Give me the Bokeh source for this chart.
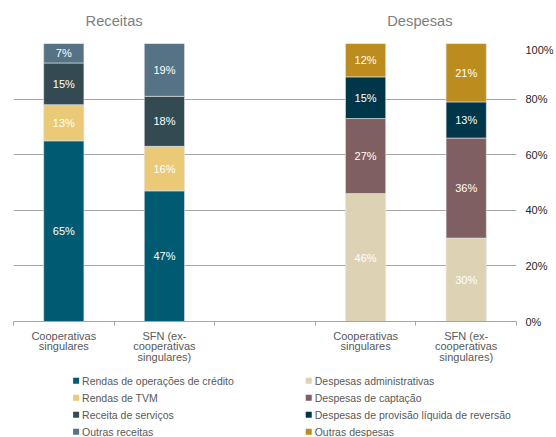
from bokeh.plotting import figure
from bokeh.layouts import column
from bokeh.models import FixedTicker, Range1d, ColumnDataSource
from bokeh.embed import file_html
from bokeh.resources import INLINE
from bokeh.core.properties import value

# ---------------- data ----------------
groups = ["Cooperativas\nsingulares", "SFN (ex-\ncooperativas\nsingulares)"]
panel_titles = ["Receitas", "Despesas"]

receitas_names = ["Rendas de operações de crédito", "Rendas de TVM",
                  "Receita de serviços", "Outras receitas"]
receitas_coop = [65, 13, 15, 7]
receitas_sfn = [47, 16, 18, 19]

despesas_names = ["Despesas administrativas", "Despesas de captação",
                  "Despesas de provisão líquida de reversão", "Outras despesas"]
despesas_coop = [46, 27, 15, 12]
despesas_sfn = [30, 36, 13, 21]

y_ticks = [0, 20, 40, 60, 80, 100]

receitas_colors = ["#005A72", "#EAC977", "#344A52", "#557384"]
despesas_colors = ["#DED2B5", "#7F5F62", "#00364A", "#BD8C1E"]

FONT = "Liberation Sans"
W = 556
LEFT, RIGHT = 13, 37

xr = Range1d(0, 5)

# ---------------- title strip ----------------
pt = figure(width=W, height=43, output_backend="svg", toolbar_location=None,
            x_range=xr, y_range=Range1d(0, 43), x_axis_type=None, y_axis_type=None,
            min_border_left=LEFT, min_border_right=RIGHT, min_border_top=0,
            min_border_bottom=0)
pt.outline_line_color = None
pt.grid.visible = False
pt.text(x=[1.0, 4.04], y=[23, 23], text=panel_titles, text_align="center",
        text_baseline="middle", text_font=value(FONT), text_font_size="14.7px",
        text_color="#808080")

# ---------------- main chart ----------------
p = figure(width=W, height=278 + 50, output_backend="svg", toolbar_location=None,
           x_range=xr, y_range=Range1d(0, 100), y_axis_location="right",
           min_border_left=LEFT, min_border_right=RIGHT, min_border_top=0,
           min_border_bottom=50)
p.outline_line_color = None
p.xgrid.visible = False
p.ygrid.grid_line_color = "#A6A6A6"
p.ygrid.grid_line_width = 1

panel_x = [[0.5, 1.5], [3.5, 4.5]]
panels = [
    (receitas_names, [receitas_coop, receitas_sfn], receitas_colors),
    (despesas_names, [despesas_coop, despesas_sfn], despesas_colors),
]

for (names, vals, colors), xs in zip(panels, panel_x):
    bottoms = [0, 0]
    for i, name in enumerate(names):
        series = [vals[0][i], vals[1][i]]
        tops = [b + v for b, v in zip(bottoms, series)]
        src = ColumnDataSource(dict(x=xs, bottom=bottoms, top=tops,
                                    mid=[(b + t) / 2 for b, t in zip(bottoms, tops)],
                                    lab=[f"{v}%" for v in series]))
        p.vbar(x="x", bottom="bottom", top="top", width=0.4, source=src,
               fill_color=colors[i], line_color="#E6E6E6", line_width=0.6)
        p.text(x="x", y="mid", text="lab", source=src, text_align="center",
               text_baseline="middle", text_color="white", text_font_size="11px",
               text_font=value(FONT))
        bottoms = tops

xa = p.xaxis[0]
xa.ticker = FixedTicker(ticks=[0.5, 1.5, 3.5, 4.5], minor_ticks=[0, 1, 2, 3, 4, 5])
xa.major_label_overrides = {0.5: groups[0], 1.5: groups[1], 3.5: groups[0], 4.5: groups[1]}
xa.major_tick_line_color = None
xa.major_tick_out = 0
xa.major_tick_in = 0
xa.minor_tick_line_color = "#A6A6A6"
xa.minor_tick_out = 4
xa.minor_tick_in = 0
xa.axis_line_color = "#A6A6A6"
xa.major_label_standoff = 4
xa.major_label_text_font = FONT
xa.major_label_text_font_size = "11px"
xa.major_label_text_color = "#595959"
xa.major_label_text_line_height = 0.9

ya = p.yaxis[0]
ya.ticker = FixedTicker(ticks=y_ticks, minor_ticks=[])
ya.major_label_overrides = {t: f"{t}%" for t in y_ticks}
ya.major_tick_line_color = None
ya.major_tick_out = 0
ya.major_tick_in = 0
ya.minor_tick_line_color = None
ya.axis_line_color = None
ya.major_label_standoff = 9
ya.major_label_text_font = FONT
ya.major_label_text_font_size = "11px"
ya.major_label_text_color = "#262626"

# ---------------- legend strip (pixel coordinates) ----------------
LH = 66
pl = figure(width=W, height=LH, output_backend="svg", toolbar_location=None,
            x_range=Range1d(LEFT, W - RIGHT), y_range=Range1d(0, LH),
            x_axis_type=None, y_axis_type=None,
            min_border_left=LEFT, min_border_right=RIGHT,
            min_border_top=0, min_border_bottom=0)
pl.outline_line_color = None
pl.grid.visible = False

ROW_TOP, ROW_STEP = 9.3, 17.0
for (names, vals, colors), sq_x in zip(panels, [76, 310]):
    ys = [LH - (ROW_TOP + k * ROW_STEP) for k in range(len(names))]
    src = ColumnDataSource(dict(x=[sq_x] * len(names), tx=[sq_x + 6] * len(names),
                                y=ys, name=names, color=colors))
    pl.scatter(x="x", y="y", marker="square", size=6, fill_color="color",
               line_color=None, source=src)
    pl.text(x="tx", y="y", text="name", source=src, text_align="left",
            text_baseline="middle", text_font=value(FONT),
            text_font_size="10.5px", text_color="#595959")

layout = column(pt, p, pl, spacing=0)
open("out.html", "w").write(file_html(layout, INLINE))
